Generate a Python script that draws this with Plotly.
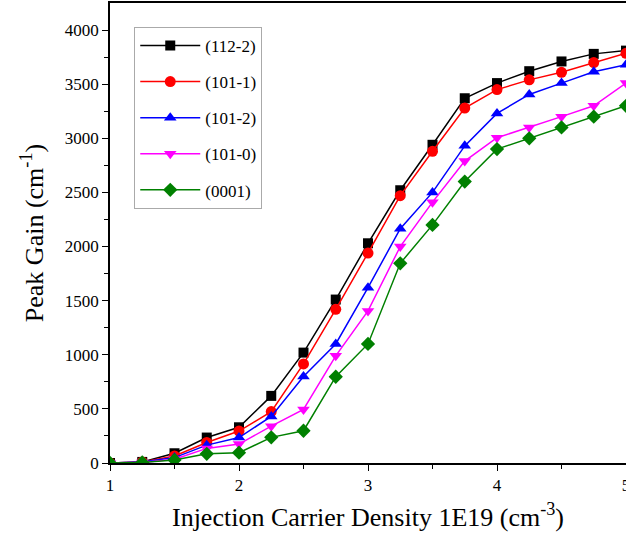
import plotly.graph_objects as go

density = [1.0, 1.25, 1.5, 1.75, 2.0, 2.25, 2.5, 2.75, 3.0, 3.25, 3.5, 3.75, 4.0, 4.25, 4.5, 4.75, 5.0]

gain_1122 = [0, 10, 90, 235, 330, 620, 1020, 1510, 2030, 2520, 2940, 3370, 3510, 3620, 3710, 3780, 3810]
gain_1011 = [0, 10, 65, 190, 295, 475, 915, 1420, 1940, 2470, 2880, 3280, 3450, 3540, 3610, 3700, 3785]
gain_1012 = [0, 10, 50, 165, 235, 430, 800, 1100, 1620, 2165, 2500, 2930, 3230, 3405, 3510, 3615, 3680]
gain_1010 = [0, 5, 35, 135, 175, 340, 495, 990, 1405, 2000, 2410, 2790, 3005, 3100, 3200, 3300, 3510]
gain_0001 = [0, 5, 28, 85, 95, 237, 298, 797, 1100, 1845, 2200, 2600, 2900, 3000, 3100, 3200, 3300]

series_names = ["(112-2)", "(101-1)", "(101-2)", "(101-0)", "(0001)"]
series_vals = [gain_1122, gain_1011, gain_1012, gain_1010, gain_0001]
colors = ["#000000", "#ff0000", "#0000ff", "#ff00ff", "#008000"]
symbols = ["square", "circle", "triangle-up", "triangle-down", "diamond"]
sizes = [10, 11, 11, 11, 11]

fig = go.Figure()
for i, (name, vals) in enumerate(zip(series_names, series_vals)):
    fig.add_trace(go.Scatter(
        x=density, y=vals, name=name, mode="lines+markers",
        line=dict(color=colors[i], width=1.5),
        marker=dict(color=colors[i], symbol=symbols[i], size=sizes[i]),
        legendgroup=f"g{i}",
    ))

serif = "Liberation Serif"
fig.update_layout(
    width=626, height=541,
    margin=dict(l=110, r=0, t=3, b=78),
    paper_bgcolor="white", plot_bgcolor="white",
    font=dict(family=serif, color="black"),
    showlegend=True,
    legend=dict(
        x=0.047, y=0.948, xanchor="left", yanchor="top",
        bgcolor="white", bordercolor="#aaaaaa", borderwidth=1,
        font=dict(family=serif, size=17, color="black"),
        itemwidth=60, tracegroupgap=11,
    ),
    xaxis=dict(
        range=[1, 5], tickvals=[1, 2, 3, 4, 5], automargin=False,
        showline=True, linecolor="black", linewidth=1.5, mirror=True,
        ticks="outside", ticklen=6, tickwidth=1, tickcolor="black",
        minor=dict(tickvals=[1.5, 2.5, 3.5, 4.5], ticks="outside", ticklen=4, tickcolor="black"),
        showgrid=False, zeroline=False, ticklabeloverflow="allow",
        tickfont=dict(family=serif, size=17, color="black"),
        title=dict(text="Injection Carrier Density 1E19 (cm<sup>-3</sup>)",
                   font=dict(family=serif, size=26, color="black"), standoff=14),
    ),
    yaxis=dict(
        range=[0, 4250], tickvals=[0, 500, 1000, 1500, 2000, 2500, 3000, 3500, 4000],
        automargin=False,
        showline=True, linecolor="black", linewidth=1.5,
        ticks="outside", ticklen=6, tickwidth=1, tickcolor="black",
        minor=dict(tickvals=[250, 750, 1250, 1750, 2250, 2750, 3250, 3750], ticks="outside", ticklen=4, tickcolor="black"),
        showgrid=False, zeroline=False,
        tickfont=dict(family=serif, size=17, color="black"),
        title=dict(text="Peak Gain (cm<sup>-1</sup>)",
                   font=dict(family=serif, size=26, color="black"), standoff=14),
    ),
)

fig.write_html("out.html")
